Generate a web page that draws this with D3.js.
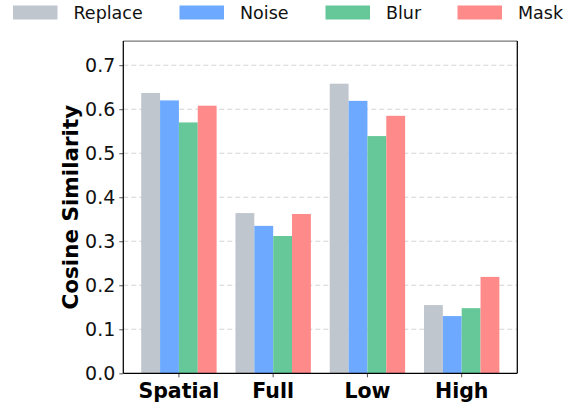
<!DOCTYPE html>
<html>
<head>
<meta charset="utf-8">
<script src="https://cdn.jsdelivr.net/npm/d3@7"></script>
<style>
  html, body { margin: 0; padding: 0; background: #fff; }
  svg { display: block; font-family: "DejaVu Sans", sans-serif; }
</style>
</head>
<body>
<svg id="chart" width="571" height="408"></svg>
<script>
const categories = ["Spatial", "Full", "Low", "High"];
const seriesNames = ["Replace", "Noise", "Blur", "Mask"];
const seriesColors = ["#c0c6cd", "#6daaff", "#66c899", "#ff8a8a"];
const replaceValues = [0.637, 0.364, 0.658, 0.155];
const noiseValues   = [0.620, 0.335, 0.619, 0.130];
const blurValues    = [0.570, 0.312, 0.539, 0.148];
const maskValues    = [0.608, 0.362, 0.585, 0.219];
const yTicks = [0.0, 0.1, 0.2, 0.3, 0.4, 0.5, 0.6, 0.7];
const yLabel = "Cosine Similarity";

const seriesValues = [replaceValues, noiseValues, blurValues, maskValues];

const svg = d3.select("#chart");
const L = 123.3, R = 517.3, T = 41, B = 373.3;

const x = d3.scaleBand().domain(categories).range([L, R]).paddingInner(0.2).paddingOuter(0.19);
const xs = d3.scaleBand().domain(seriesNames).range([0, x.bandwidth()]);
const y = d3.scaleLinear().domain([0, 0.755]).range([B, T]);

// grid
svg.append("g").selectAll("line").data(yTicks.filter(d => d > 0)).join("line")
  .attr("x1", L).attr("x2", R)
  .attr("y1", d => y(d)).attr("y2", d => y(d))
  .attr("stroke", "#d4d4d4").attr("stroke-width", 1.1)
  .attr("stroke-dasharray", "5,3");

// bars
const groups = svg.append("g").selectAll("g").data(seriesNames).join("g")
  .attr("fill", (d, i) => seriesColors[i]);
groups.each(function(s, si) {
  d3.select(this).selectAll("rect").data(categories).join("rect")
    .attr("x", (c) => x(c) + xs(s))
    .attr("width", xs.bandwidth())
    .attr("y", (c, ci) => y(seriesValues[si][ci]))
    .attr("height", (c, ci) => B - y(seriesValues[si][ci]));
});

// axes
const yAxis = d3.axisLeft(y).tickValues(yTicks).tickFormat(d3.format(".1f")).tickSize(4).tickPadding(4);
const gy = svg.append("g").attr("transform", `translate(${L},0)`).call(yAxis);
gy.select(".domain").remove();
gy.selectAll(".tick line").attr("stroke", "#555");
gy.selectAll(".tick text").attr("font-size", 19).attr("fill", "#111").attr("font-family", "DejaVu Sans");

const xAxis = d3.axisBottom(x).tickSize(4).tickPadding(6);
const gx = svg.append("g").attr("transform", `translate(0,${B})`).call(xAxis);
gx.select(".domain").remove();
gx.selectAll(".tick line").attr("stroke", "#555");
gx.selectAll(".tick text").attr("font-size", 20.5).attr("font-weight", "bold").attr("fill", "#000").attr("font-family", "DejaVu Sans");

// spines
svg.append("line").attr("x1", L).attr("x2", R).attr("y1", T).attr("y2", T).attr("stroke", "#777").attr("stroke-width", 1.25);
svg.append("line").attr("x1", R).attr("x2", R).attr("y1", T).attr("y2", B).attr("stroke", "#000").attr("stroke-width", 1.25);
svg.append("line").attr("x1", L).attr("x2", L).attr("y1", T).attr("y2", B).attr("stroke", "#000").attr("stroke-width", 1.25);
svg.append("line").attr("x1", L).attr("x2", R).attr("y1", B).attr("y2", B).attr("stroke", "#000").attr("stroke-width", 1.25);

// y label
svg.append("text")
  .attr("transform", `translate(78,${(T + B) / 2}) rotate(-90)`)
  .attr("text-anchor", "middle")
  .attr("font-size", 21.5).attr("font-weight", "bold").attr("fill", "#000")
  .text(yLabel);

// legend
const legendX = [13, 179.5, 325.5, 457.5];
const leg = svg.append("g").selectAll("g").data(seriesNames).join("g")
  .attr("transform", (d, i) => `translate(${legendX[i]},5.5)`);
leg.append("rect").attr("width", 44.5).attr("height", 14).attr("fill", (d, i) => seriesColors[i]);
leg.append("text").attr("x", 60.5).attr("y", 7).attr("dy", "0.35em")
  .attr("font-size", 17.5).attr("fill", "#111").text(d => d);
</script>
</body>
</html>
